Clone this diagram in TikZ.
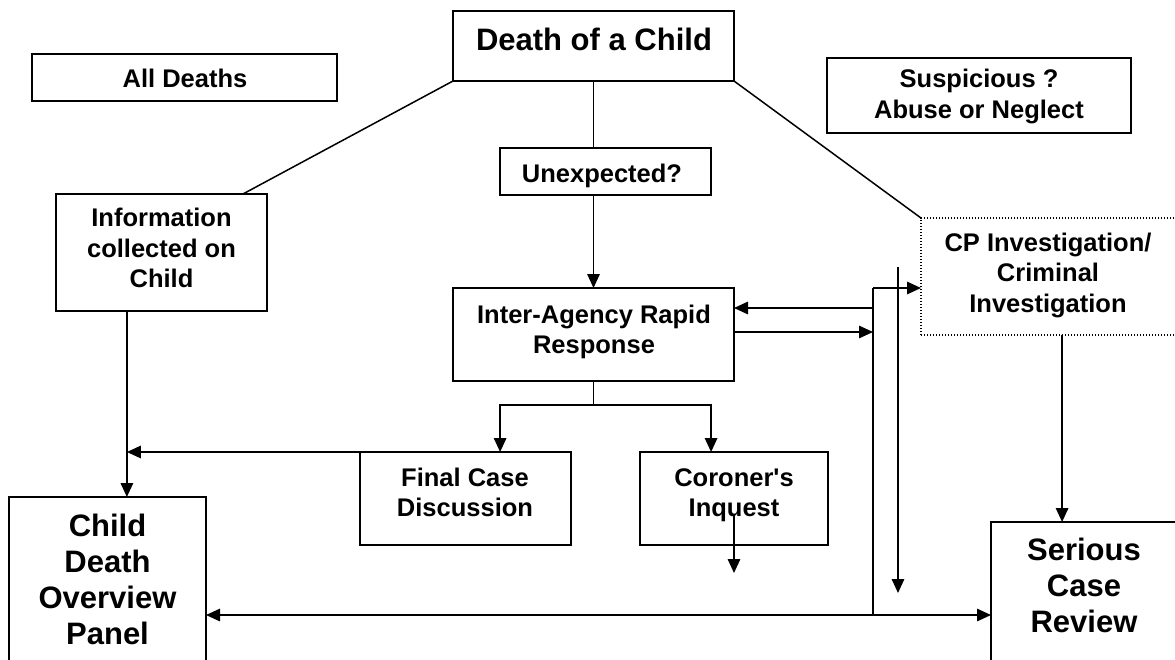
\documentclass[tikz,border=0pt]{standalone}
\usepackage{fontspec}
\setmainfont{Liberation Sans}[Ligatures=TeXOff]
\usetikzlibrary{arrows.meta,calc}
\tikzset{
 box/.style={draw, line width=1.5pt, inner sep=0pt, outer sep=0pt, rectangle},
 dotbox/.style={box, line width=1.4pt, dash pattern=on 1.4pt off 1.6pt},
 txt/.style={align=center, inner sep=0pt, font=\bfseries\fontsize{25.5}{30.5}\selectfont},
 bigtxt/.style={align=center, inner sep=0pt, font=\bfseries\fontsize{31}{36}\selectfont},
 conn/.style={line width=1.5pt},
 arr/.style={conn, -{Triangle[length=14pt,width=12.5pt]}},
 arrboth/.style={conn, {Triangle[length=14pt,width=12.5pt]}-{Triangle[length=14pt,width=12.5pt]}},
}
\begin{document}
\begin{tikzpicture}[x=1pt,y=-1pt]
\useasboundingbox (0,0) rectangle (1175,659);
\clip (0,0) rectangle (1175,659);
% boxes
\node[box, minimum width=281pt, minimum height=70pt] (death) at (593.5,46) {};
\node[box, minimum width=305pt, minimum height=47pt] (alld) at (184.5,77.5) {};
\node[box, minimum width=304pt, minimum height=75pt] (susp) at (979,95.5) {};
\node[box, minimum width=211pt, minimum height=117pt] (info) at (161.5,252.5) {};
\node[box, minimum width=211pt, minimum height=47pt] (unexp) at (605.5,171.5) {};
\node[box, minimum width=281pt, minimum height=93pt] (ia) at (593.5,334.5) {};
\node[box, minimum width=211pt, minimum height=93pt] (final) at (465.5,498.5) {};
\node[box, minimum width=188pt, minimum height=93pt] (cor) at (734,498.5) {};
\node[dotbox, minimum width=257pt, minimum height=117pt] (cp) at (1049.5,276.5) {};
\node[box, minimum width=197pt, minimum height=173pt] (cdop) at (107.5,583.5) {};
\node[box, minimum width=187pt, minimum height=148pt] (scr) at (1084.5,596) {};
% texts
\node[bigtxt] (death-t) at (594,39.5) {Death of a Child};
\node[txt] (alld-t) at (185,78) {All Deaths};
\node[txt] (susp-t) at (979,96.7) {Suspicious ?\\Abuse or Neglect};
\node[txt] (info-t) at (161.5,248) {Information\\collected on\\Child};
\node[txt] (unexp-t) at (602,175.7) {Unexpected?};
\node[txt] (ia-t) at (594,332) {Inter-Agency Rapid\\Response};
\node[txt] (final-t) at (465,492.5) {Final Case\\Discussion};
\node[txt] (cor-t) at (734,495) {Coroner's\\Inquest};
\node[txt] (cp-t) at (1048,275) {CP Investigation/\\Criminal\\Investigation};
\node[bigtxt] (cdop-t) at (107.5,579.5) {Child\\Death\\Overview\\Panel};
\node[bigtxt] (scr-t) at (1084,585.5) {Serious\\Case\\Review};
% helper points on boxes
\coordinate (infoTop) at ($(info.north west)!0.886!(info.north east)$);
\coordinate (infoOut) at ($(info.south west)!0.336!(info.south east)$);
\coordinate (finIn) at ($(final.north west)!0.664!(final.north east)$);
\coordinate (corIn) at ($(cor.north west)!0.378!(cor.north east)$);
\coordinate (iaR1) at ($(ia.north east)!0.215!(ia.south east)$);
\coordinate (iaR2) at ($(ia.north east)!0.473!(ia.south east)$);
\coordinate (cpOut) at ($(cp.south west)!0.549!(cp.south east)$);
\coordinate (busTop) at (873,288);
\coordinate (busBot) at (873,615);
\coordinate (v2Top) at (898,267);
\coordinate (v2Bot) at (898,593);
\coordinate (corA) at (734,515);
\coordinate (corB) at (734,573);
% connectors
\draw[conn] (death.south west) -- (infoTop);
\draw[conn] (death.south east) -- (cp.north west);
\draw[conn] (death.south) -- (death.south |- unexp.north);
\draw[arr] (death.south |- unexp.south) -- (ia.north);
\draw[conn] (ia.south) -- ++(0,24) coordinate (split);
\draw[arr] (split) -| (finIn);
\draw[arr] (split) -| (corIn);
\draw[arr] (final.north west) -- (final.north west -| infoOut);
\draw[arr] (infoOut) -- (infoOut |- cdop.north);
\draw[conn] (busTop) -- (busBot);
\draw[arr] (busTop) -- (busTop -| cp.west);
\draw[arr] (iaR1 -| busTop) -- (iaR1);
\draw[arr] (iaR2) -- (iaR2 -| busTop);
\draw[arr] (v2Top) -- (v2Bot);
\draw[arrboth] (cdop.east |- busBot) -- (scr.west |- busBot);
\draw[arr] (cpOut) -- (cpOut |- scr.north);
\draw[arr] (corA) -- (corB);
\end{tikzpicture}
\end{document}
